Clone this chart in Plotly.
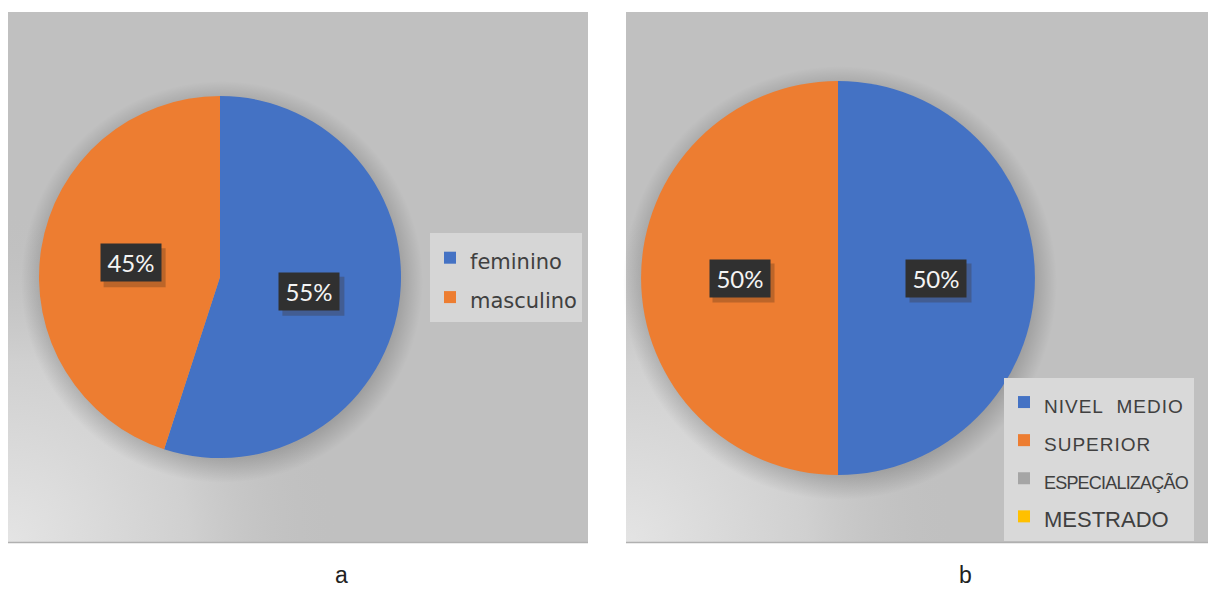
import base64, math
import plotly.graph_objects as go

# ---------------- data ----------------
sexo_labels = ["feminino", "masculino"]
sexo_values = [55, 45]

esc_labels = ["NIVEL\u00a0 MEDIO", "SUPERIOR", "ESPECIALIZAÇÃO", "MESTRADO"]
esc_values = [50, 50, 0, 0]

captions = ["a", "b"]
colors = ["#4472C4", "#ED7D31", "#A5A5A5", "#FFC000"]

# ---------------- layout constants (pixels) ----------------
W, H = 1208, 590
panels = [(8, 12, 588, 543), (626, 12, 1208, 543)]          # x0, y0, x1, y1
pies = [(220, 277, 181), (838, 278, 197)]                    # cx, cy, r
caption_pos = [(341, 575), (965, 575)]
# legend text styling (style only, not data)
legend_a_style = "font-size:21px"
legend_b_style = {"ESPECIALIZAÇÃO": "font-size:18px;letter-spacing:-0.8px",
                  "MESTRADO": "font-size:22px",
                  "NIVEL\u00a0 MEDIO": "font-size:19px;letter-spacing:1px",
                  "SUPERIOR": "font-size:19px;letter-spacing:1px"}


def px(x):
    return x / W


def py(y):
    return 1 - y / H


# ---------------- background (panels, corner light, pie shadow) ----------------
svg = [f'<svg xmlns="http://www.w3.org/2000/svg" width="{W}" height="{H}" viewBox="0 0 {W} {H}">', '<defs>']
for i, ((x0, y0, x1, y1), (cx, cy, r)) in enumerate(zip(panels, pies)):
    svg.append(
        f'<radialGradient id="corner{i}" gradientUnits="userSpaceOnUse" cx="{x0}" cy="{y1}" r="330">'
        f'<stop offset="0" stop-color="#e4e4e4"/><stop offset="0.55" stop-color="#d0d0d0"/>'
        f'<stop offset="1" stop-color="#c0c0c0" stop-opacity="0"/></radialGradient>')
    R = r + 20
    svg.append(
        f'<radialGradient id="shadow{i}" gradientUnits="userSpaceOnUse" cx="{cx+2}" cy="{cy+5}" r="{R}">'
        f'<stop offset="{(r-4)/R:.3f}" stop-color="#000" stop-opacity="0.17"/>'
        f'<stop offset="1" stop-color="#000" stop-opacity="0"/></radialGradient>')
svg.append('</defs>')
for i, ((x0, y0, x1, y1), (cx, cy, r)) in enumerate(zip(panels, pies)):
    svg.append(f'<rect x="{x0}" y="{y0}" width="{x1-x0}" height="{y1-y0}" fill="#c0c0c0"/>')
    svg.append(f'<rect x="{x0}" y="{y0}" width="{x1-x0}" height="{y1-y0}" fill="url(#corner{i})"/>')
    svg.append(f'<line x1="{x0}" y1="{y1-0.5}" x2="{x1}" y2="{y1-0.5}" stroke="#b0b0b0" stroke-width="1.5"/>')
    svg.append(f'<circle cx="{cx+2}" cy="{cy+5}" r="{r+20}" fill="url(#shadow{i})"/>')
svg.append('</svg>')
bg_uri = "data:image/svg+xml;base64," + base64.b64encode("".join(svg).encode()).decode()

# ---------------- figure ----------------
fig = go.Figure()

legend_a_text = [f'<span style="{legend_a_style}">{l}</span>' for l in sexo_labels]
legend_b_text = [f'<span style="{legend_b_style.get(l, "")}">{l}</span>' for l in esc_labels]
datasets = [(sexo_labels, sexo_values, "legend", legend_a_text),
            (esc_labels, esc_values, "legend2", legend_b_text)]
for (labels, values, leg, shown), (cx, cy, r) in zip(datasets, pies):
    fig.add_trace(go.Pie(
        labels=shown, values=values, sort=False, direction="clockwise", rotation=0,
        marker=dict(colors=colors[:len(labels)], line=dict(width=0)),
        textinfo="none", showlegend=True, legend=leg,
        domain=dict(x=[px(cx - r), px(cx + r)], y=[py(cy + r), py(cy - r)]),
    ))

# percentage labels (positions derived from the values)
annotations, shapes = [], []
label_font = dict(family="Lato, Open Sans, sans-serif", size=24, color="#f4f4f4")
BW, BH = 62, 39
for (labels, values, _, _), (cx, cy, r) in zip(datasets, pies):
    total = sum(values)
    cum = 0
    for v in values:
        if v > 0:
            mid = (cum + v / 2) / total * 2 * math.pi
            lx = cx + 0.5 * r * math.sin(mid)
            ly = cy - 0.5 * r * math.cos(mid)
            txt = f"{round(100 * v / total)}%"
            shapes.append(dict(type="rect", xref="paper", yref="paper", layer="above",
                               x0=px(lx - BW / 2 + 4), x1=px(lx + BW / 2 + 4),
                               y0=py(ly + BH / 2 + 5), y1=py(ly - BH / 2 + 5),
                               fillcolor="rgba(60,40,20,0.28)", line=dict(width=0)))
            annotations.append(dict(x=px(lx), y=py(ly), xref="paper", yref="paper", text=txt,
                                    xanchor="center", yanchor="middle",
                                    showarrow=False, width=BW - 2, height=BH - 2, borderpad=0,
                                    bgcolor="#303030", font=label_font))
        cum += v

for cap, (cx, cy) in zip(captions, caption_pos):
    annotations.append(dict(x=px(cx), y=py(cy), xref="paper", yref="paper", text=cap, showarrow=False,
                            xanchor="center", yanchor="middle",
                            font=dict(family="Liberation Sans, Arial, sans-serif", size=23, color="#222")))

fig.update_layout(
    width=W, height=H, margin=dict(l=0, r=0, t=0, b=0),
    paper_bgcolor="white", plot_bgcolor="white",
    images=[dict(source=bg_uri, xref="paper", yref="paper", x=0, y=1, sizex=1, sizey=1,
                 sizing="stretch", xanchor="left", yanchor="top", layer="below")],
    shapes=shapes,
    legend=dict(x=px(430), y=py(233), xanchor="left", yanchor="top", bgcolor="#d6d6d6",
                font=dict(family="DejaVu Sans, sans-serif", size=28, color="#404040"),
                itemwidth=30),
    legend2=dict(x=px(1004), y=py(378), xanchor="left", yanchor="top", bgcolor="#d9d9d9",
                 font=dict(family="Liberation Sans, Arial, sans-serif", size=27, color="#404040"),
                 itemwidth=30),
    annotations=annotations,
)

fig.write_html("out.html")
